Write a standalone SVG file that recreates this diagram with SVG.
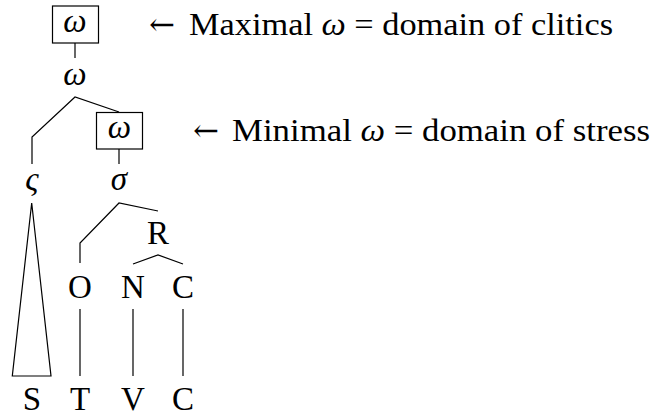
<svg xmlns="http://www.w3.org/2000/svg" width="652" height="416" viewBox="0 0 652 416">
<style>
text{font-family:"Liberation Serif","DejaVu Serif",serif;font-size:33px;fill:#000}
.n{text-anchor:middle}
.m{font-style:italic}
.arr{font-family:"DejaVu Serif",serif;font-size:31px}
.lab{font-size:32px}
.ln{stroke:#000;stroke-width:1.2;fill:none}
</style>
<rect width="652" height="416" fill="#fff"/>
<g id="connectors">
<line class="ln" x1="75" y1="43" x2="75" y2="58"/>
<polyline class="ln" points="32,164 32,137 75,97 119,112"/>
<line class="ln" x1="119" y1="149" x2="119" y2="164"/>
<polygon class="ln" points="31.7,203 12.3,376 51,376"/>
<polyline class="ln" points="80,263 80,243 119,203 158,211"/>
<polyline class="ln" points="133,264 158,255 183,264"/>
<line class="ln" x1="80" y1="309" x2="80" y2="376"/>
<line class="ln" x1="133" y1="309" x2="133" y2="376"/>
<line class="ln" x1="183" y1="309" x2="183" y2="376"/>
</g>
<g id="omega-max"><rect class="ln" x="52.5" y="6" width="46" height="37"/><text class="n m" x="75" y="32">ω</text></g>
<g id="omega"><text class="n m" x="75" y="85">ω</text></g>
<g id="omega-min"><rect class="ln" x="96.5" y="112.5" width="46" height="36.5"/><text class="n m" x="119.5" y="138">ω</text></g>
<g id="varsigma"><text class="n m" x="32" y="190">ς</text></g>
<g id="sigma"><text class="n m" x="119" y="190">σ</text></g>
<g id="R"><text class="n" x="158" y="244">R</text></g>
<g id="O"><text class="n" x="80" y="298">O</text></g>
<g id="N"><text class="n" x="133" y="298">N</text></g>
<g id="C1"><text class="n" x="183" y="298">C</text></g>
<g id="S"><text class="n" x="32" y="410">S</text></g>
<g id="T"><text class="n" x="80" y="410">T</text></g>
<g id="V"><text class="n" x="133" y="410">V</text></g>
<g id="C2"><text class="n" x="183" y="410">C</text></g>
<g id="label-max"><text class="arr" x="149" y="35">←</text><text class="lab" x="189" y="35" textLength="424" lengthAdjust="spacingAndGlyphs">Maximal <tspan class="m">ω</tspan> = domain of clitics</text></g>
<g id="label-min"><text class="arr" x="193" y="141">←</text><text class="lab" x="232" y="141" textLength="418" lengthAdjust="spacingAndGlyphs">Minimal <tspan class="m">ω</tspan> = domain of stress</text></g>
</svg>
